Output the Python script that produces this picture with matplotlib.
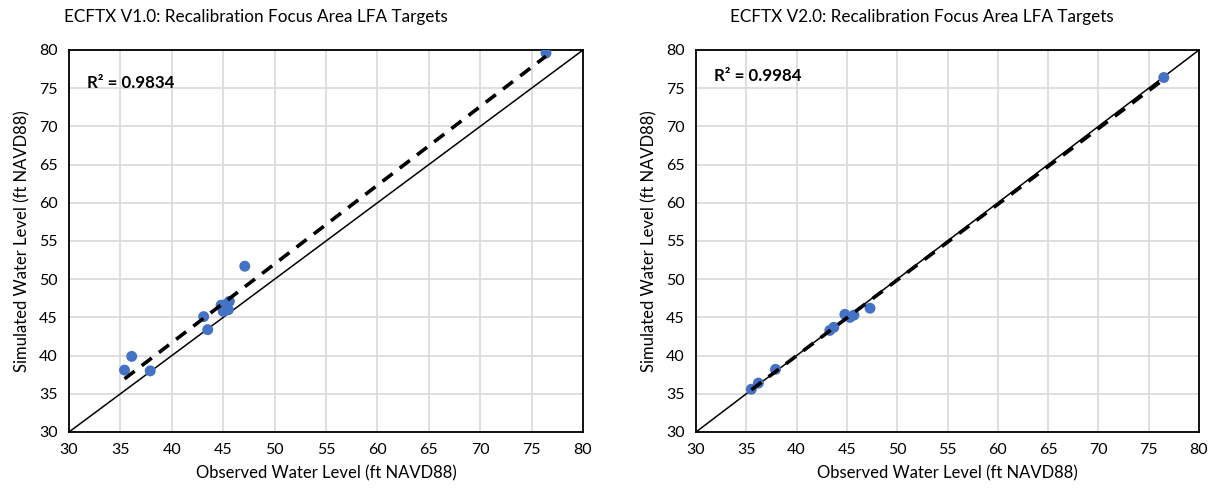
import numpy as np
import matplotlib
matplotlib.use("Agg")
import matplotlib.pyplot as plt

plt.rcParams['font.family'] = ['Lato', 'DejaVu Sans']

# Observed vs simulated water levels (ft NAVD88), LFA targets
v1_observed = [35.4, 36.1, 37.9, 43.1, 43.5, 44.8, 45.0, 45.3, 45.5, 45.6, 47.1, 76.4]
v1_simulated = [38.1, 39.9, 38.0, 45.1, 43.4, 46.6, 45.8, 46.7, 46.0, 47.1, 51.7, 79.6]
v2_observed = [35.5, 36.2, 37.9, 43.3, 43.7, 44.8, 45.3, 45.7, 47.3, 76.5]
v2_simulated = [35.6, 36.4, 38.2, 43.3, 43.7, 45.4, 45.0, 45.3, 46.2, 76.4]
r2_labels = ["R² = 0.9834", "R² = 0.9984"]
titles = ["ECFTX V1.0: Recalibration Focus Area LFA Targets",
          "ECFTX V2.0: Recalibration Focus Area LFA Targets"]
ticks = list(range(30, 81, 5))

fig = plt.figure(figsize=(12.21, 4.95), dpi=100)
axes_boxes = [(69, 583), (696, 1199)]
title_centers = [256, 922]
r2_pos = [(0.035, 0.913), (0.036, 0.932)]
datasets = [(v1_observed, v1_simulated), (v2_observed, v2_simulated)]

W, H = 1221, 495
top_px, bot_px = 50, 432

for i, ((x0, x1), (obs, sim)) in enumerate(zip(axes_boxes, datasets)):
    ax = fig.add_axes([x0 / W, 1 - bot_px / H, (x1 - x0) / W, (bot_px - top_px) / H])
    ax.set_xlim(30, 80)
    ax.set_ylim(30, 80)
    ax.set_xticks(ticks)
    ax.set_yticks(ticks)
    ax.grid(True, color='#d9d9d9', linewidth=1.2)
    ax.set_axisbelow(True)
    ax.tick_params(length=0, labelsize=11.5, pad=8)
    for s in ax.spines.values():
        s.set_linewidth(1.3)
        s.set_color('black')

    # 1:1 reference line
    ax.plot([30, 80], [30, 80], color='black', linewidth=1.1, zorder=2)

    # Linear trendline through the data
    obs_a = np.asarray(obs)
    sim_a = np.asarray(sim)
    slope, intercept = np.polyfit(obs_a, sim_a, 1)
    xs = np.array([obs_a.min(), obs_a.max()])
    ax.plot(xs, slope * xs + intercept, color='black', linewidth=2.6,
            linestyle=(0, (3.5, 2.5)), zorder=4)

    ax.scatter(obs_a, sim_a, s=62, color='#4472C4', edgecolors='none', zorder=3)

    ax.text(r2_pos[i][0], r2_pos[i][1], r2_labels[i], transform=ax.transAxes,
            fontsize=12.2, fontweight='bold', va='center', ha='left')
    ax.set_xlabel("Observed Water Level (ft NAVD88)", fontsize=12, labelpad=6)
    ax.set_ylabel("Simulated Water Level (ft NAVD88)", fontsize=12, labelpad=6)

    fig.text(title_centers[i] / W, 1 - 17 / H, titles[i], fontsize=12.3,
             ha='center', va='center')

fig.savefig("out.png", dpi=100)
